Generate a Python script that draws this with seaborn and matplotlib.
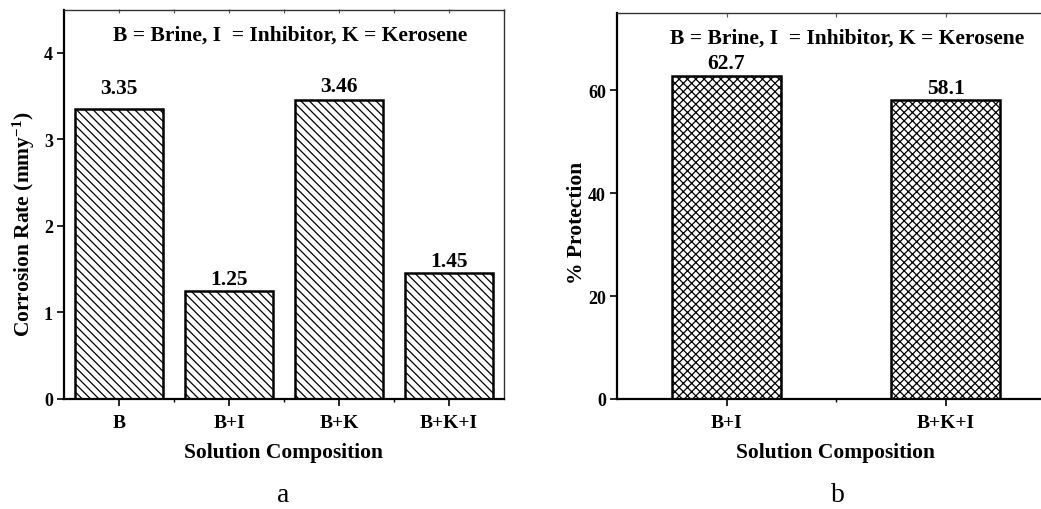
import matplotlib
matplotlib.use("Agg")
import matplotlib.pyplot as plt
import seaborn as sns
from matplotlib.ticker import FixedLocator

# ---- data ----
comp_a = ["B", "B+I", "B+K", "B+K+I"]
rate = [3.35, 1.25, 3.46, 1.45]
rate_labels = ["3.35", "1.25", "3.46", "1.45"]

comp_b = ["B+I", "B+K+I"]
protection = [62.7, 58.1]
prot_labels = ["62.7", "58.1"]

legend_text = "B = Brine, I  = Inhibitor, K = Kerosene"

sns.set_theme(style="white")
plt.rcParams["font.family"] = ["Liberation Serif", "DejaVu Serif"]
plt.rcParams["font.weight"] = "bold"
plt.rcParams["axes.labelweight"] = "bold"
for k in ["text.color", "axes.labelcolor", "xtick.color", "ytick.color",
          "axes.edgecolor"]:
    plt.rcParams[k] = "black"
plt.rcParams["hatch.linewidth"] = 0.9
plt.rcParams["hatch.color"] = "black"
plt.rcParams["mathtext.fontset"] = "custom"
plt.rcParams["mathtext.rm"] = "Liberation Serif:bold"
plt.rcParams["mathtext.it"] = "Liberation Serif:bold"
plt.rcParams["mathtext.bf"] = "Liberation Serif:bold"

fig = plt.figure(figsize=(10.41, 5.10), dpi=100)
ax1 = fig.add_axes([64 / 1041, 110 / 510, 440 / 1041, 389.5 / 510])
ax2 = fig.add_axes([617 / 1041, 110 / 510, 438 / 1041, 386 / 510])

TICK_Y = 13
TICK_X = 14
LAB = 15.5


def style_axes(ax, ymax, yticks, minor_x, top_ticks):
    ax.set_ylim(0, ymax)
    ax.set_yticks(yticks)
    for s in ["left", "bottom"]:
        ax.spines[s].set_linewidth(1.6)
        ax.spines[s].set_color("black")
    for s in ["top", "right"]:
        ax.spines[s].set_linewidth(1.0)
        ax.spines[s].set_color("#333333")
    ax.tick_params(axis="both", which="major", direction="out", length=5,
                   width=1.2, color="black", bottom=True, left=True, pad=3)
    ax.tick_params(axis="y", labelsize=TICK_Y)
    ax.tick_params(axis="x", labelsize=TICK_X, pad=6)
    ax.xaxis.set_minor_locator(FixedLocator(minor_x))
    ax.tick_params(axis="x", which="minor", direction="out", length=2,
                   width=1.0, bottom=True)
    for lab in ax.get_xticklabels() + ax.get_yticklabels():
        lab.set_fontweight("bold")
    sec = ax.secondary_xaxis("top")
    sec.set_xticks(top_ticks)
    sec.set_xticklabels([])
    sec.tick_params(direction="in", length=3, width=0.8, color="#555555")
    sec.spines["top"].set_visible(False)


# ---- panel a ----
sns.barplot(x=comp_a, y=rate, ax=ax1, color="white", saturation=1,
            edgecolor="black", linewidth=1.8, width=0.8)
for p in ax1.patches:
    p.set_hatch("\\\\\\\\")
ax1.set_xlim(-0.5, 3.5)
style_axes(ax1, 4.5, [0, 1, 2, 3, 4], [0.5, 1.5, 2.5],
           [0, 0.5, 1, 1.5, 2, 2.5, 3, 3.5])
pads_a = [8, 1.5, 2.5, 2]
for p, lab, pad in zip(ax1.patches, rate_labels, pads_a):
    ax1.annotate(lab, xy=(p.get_x() + p.get_width() / 2, p.get_height()),
                 xytext=(0, pad), textcoords="offset points",
                 ha="center", va="bottom", fontsize=LAB, fontweight="bold")
ax1.set_xlabel("Solution Composition", fontsize=LAB, labelpad=8)
ax1.set_ylabel("Corrosion Rate (mmy$^{\\mathbf{-1}}$)", fontsize=LAB)
ax1.yaxis.set_label_coords(-0.062, 0.452)
ax1.text(0.513, 0.935, legend_text, transform=ax1.transAxes, ha="center",
         va="center", fontsize=LAB, fontweight="bold")

# ---- panel b ----
sns.barplot(x=comp_b, y=protection, ax=ax2, color="white", saturation=1,
            edgecolor="black", linewidth=1.8, width=0.5)
for p in ax2.patches:
    p.set_hatch("xxxx")
ax2.set_xlim(-0.5, 1.5)
style_axes(ax2, 75, [0, 20, 40, 60], [0.5], [0, 0.5, 1])
pads_b = [2.5, 1.5]
for p, lab, pad in zip(ax2.patches, prot_labels, pads_b):
    ax2.annotate(lab, xy=(p.get_x() + p.get_width() / 2, p.get_height()),
                 xytext=(0, pad), textcoords="offset points",
                 ha="center", va="bottom", fontsize=LAB, fontweight="bold")
ax2.set_xlabel("Solution Composition", fontsize=LAB, labelpad=8)
ax2.set_ylabel("% Protection", fontsize=LAB)
ax2.yaxis.set_label_coords(-0.068, 0.46)
ax2.text(0.525, 0.935, legend_text, transform=ax2.transAxes, ha="center",
         va="center", fontsize=LAB, fontweight="bold")

# ---- captions ----
fig.text(283 / 1041, 0.015, "a", ha="center", va="baseline", fontsize=20,
         fontweight="normal")
fig.text(838 / 1041, 0.015, "b", ha="center", va="baseline", fontsize=20,
         fontweight="normal")

fig.savefig("out.png", dpi=100)
